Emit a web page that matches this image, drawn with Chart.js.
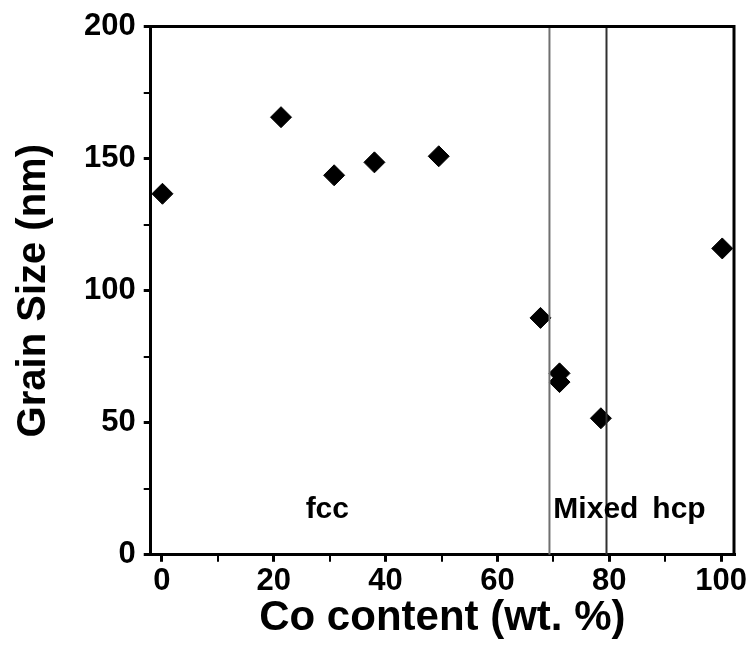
<!DOCTYPE html>
<html>
<head>
<meta charset="utf-8">
<script src="https://cdn.jsdelivr.net/npm/chart.js@4.4.0/dist/chart.umd.min.js"></script>
<style>
    body { margin: 0; background: #fff; }
    #wrap { width: 755px; height: 664px; position: relative; }
</style>
</head>
<body>
<div id="wrap"><canvas id="grainChart"></canvas></div>
<script>
// Co content (wt. %) and grain size (nm)
var coContent = [0.1, 21.3, 30.8, 38.0, 49.5, 67.7, 71.1, 71.1, 78.5, 100.2];
var grainSize = [136.7, 165.7, 143.7, 148.6, 150.9, 89.7, 68.7, 65.4, 51.7, 116];

// axis ticks (labelled every 20 / 50, minor in between)
var xTicks = [0, 10, 20, 30, 40, 50, 60, 70, 80, 90, 100];
var yTicks = [0, 25, 50, 75, 100, 125, 150, 175, 200];

// phase boundaries (wt. % Co)
var boundaries = [69.3, 79.5];
var boundaryColors = ['#707070', '#303030'];

// phase region labels
var phaseNames = ['fcc', 'Mixed', 'hcp'];
var phaseX = [25.7, 70.0, 87.7];
var phaseY = [14, 14, 14];

var FONT = "'Liberation Sans', Arial, sans-serif";

window.addEventListener('load', drawChart);

function drawChart() {
    var ctx = document.getElementById("grainChart");

    var points = [];
    for (var i = 0; i < coContent.length; ++i) {
        points.push({x: coContent[i], y: grainSize[i]});
    }

    var datasets = [];
    for (var b = 0; b < boundaries.length; ++b) {
        datasets.push({
            type: 'line',
            data: [{x: boundaries[b], y: 0}, {x: boundaries[b], y: 200}],
            borderColor: boundaryColors[b],
            borderWidth: 2,
            pointRadius: 0,
            fill: false
        });
    }
    datasets.push({
        type: 'scatter',
        data: points,
        pointStyle: 'rectRot',
        pointRadius: 10.5,
        pointBackgroundColor: '#000',
        pointBorderColor: '#000',
        pointBorderWidth: 1
    });

    // frame around the plot and the phase names
    var framePlugin = {
        id: 'frame',
        afterDraw: function (chart) {
            var c = chart.ctx;
            var a = chart.chartArea;
            var xs = chart.scales.x, ys = chart.scales.y;
            c.save();
            c.strokeStyle = '#000';
            c.lineWidth = 3;
            c.beginPath();
            c.moveTo(a.left, a.top);
            c.lineTo(a.right, a.top);
            c.lineTo(a.right, a.bottom);
            c.stroke();
            c.fillStyle = '#000';
            c.font = 'bold 30px ' + FONT;
            c.textAlign = 'left';
            c.textBaseline = 'alphabetic';
            for (var k = 0; k < phaseNames.length; ++k) {
                c.fillText(phaseNames[k], xs.getPixelForValue(phaseX[k]), ys.getPixelForValue(phaseY[k]));
            }
            c.restore();
        }
    };

    function useTicks(list) {
        return function (s) {
            s.ticks = list.map(function (v) { return {value: v}; });
        };
    }

    new Chart(ctx, {
        data: {datasets: datasets},
        options: {
            responsive: true,
            maintainAspectRatio: false,
            animation: false,
            layout: {padding: {top: 12, right: 21, left: 10, bottom: 25}},
            plugins: {
                legend: {display: false},
                tooltip: {enabled: false}
            },
            scales: {
                x: {
                    type: 'linear',
                    min: -2,
                    max: 102.3,
                    border: {color: '#000', width: 3},
                    grid: {
                        drawOnChartArea: false,
                        color: '#000',
                        tickLength: 7,
                        lineWidth: function (c) { return c.tick && c.tick.value % 20 === 0 ? 3 : 2; }
                    },
                    afterBuildTicks: useTicks(xTicks),
                    ticks: {
                        color: '#000',
                        padding: 1,
                        maxRotation: 0,
                        autoSkip: false,
                        font: {family: FONT, size: 31, weight: 'bold'},
                        callback: function (v) { return v % 20 === 0 ? v : ''; }
                    },
                    title: {
                        display: true,
                        text: 'Co content (wt. %)',
                        color: '#000',
                        font: {family: FONT, size: 42, weight: 'bold', lineHeight: 1},
                        padding: {top: -4, bottom: 0}
                    }
                },
                y: {
                    min: 0,
                    max: 200,
                    border: {color: '#000', width: 3},
                    grid: {
                        drawOnChartArea: false,
                        color: '#000',
                        tickLength: 7,
                        lineWidth: function (c) { return c.tick && c.tick.value % 50 === 0 ? 3 : 2; }
                    },
                    afterBuildTicks: useTicks(yTicks),
                    ticks: {
                        color: '#000',
                        padding: 8,
                        autoSkip: false,
                        font: {family: FONT, size: 31, weight: 'bold'},
                        callback: function (v) { return v % 50 === 0 ? v : ''; }
                    },
                    title: {
                        display: true,
                        text: 'Grain Size (nm)',
                        color: '#000',
                        font: {family: FONT, size: 40, weight: 'bold'},
                        padding: {top: 0, bottom: 18}
                    }
                }
            }
        },
        plugins: [framePlugin]
    });
}
</script>
</body>
</html>
